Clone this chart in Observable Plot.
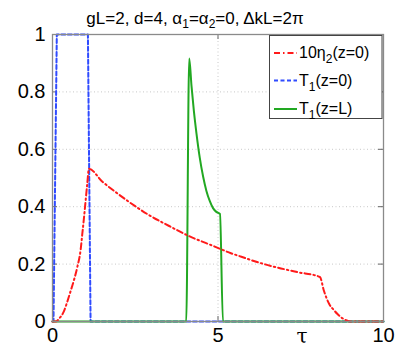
<!DOCTYPE html>
<html>
<head>
<meta charset="utf-8">
<script src="https://cdn.jsdelivr.net/npm/d3@7"></script>
<script src="https://cdn.jsdelivr.net/npm/@observablehq/plot@0.6"></script>
<style>
  html, body { margin: 0; padding: 0; background: #fff; }
  #chart { width: 399px; height: 360px; }
</style>
</head>
<body>
<div id="chart"></div>
<script>
// ---- data ----
const etaTau = [0, 0.1, 0.2, 0.35, 0.45, 0.55, 0.65, 0.75, 0.85, 0.9, 0.95, 1.0, 1.05, 1.1,
  1.5, 1.86, 2.37, 2.87, 3.37, 3.57, 4.08, 4.88, 5.39, 5.64, 6.39, 6.9, 7.4, 8.08,
  8.2, 8.36, 8.5, 8.61, 8.75, 8.86, 9.0, 10];
const etaVal = [0, 0, 0.01, 0.037, 0.07, 0.107, 0.145, 0.19, 0.25, 0.305, 0.36, 0.42, 0.48, 0.532,
  0.488, 0.455, 0.412, 0.374, 0.342, 0.330, 0.300, 0.262, 0.238, 0.228, 0.200, 0.185, 0.172, 0.155,
  0.107, 0.061, 0.04, 0.026, 0.012, 0.005, 0, 0];

const t0Tau = [0, 0.03, 0.13, 1.07, 1.15, 10];
const t0Val = [0, 0, 1, 1, 0, 0];

const tLTau = [0, 4.04, 4.13, 4.2, 4.27, 4.35, 4.45, 4.55, 4.65, 4.75, 4.85, 4.95, 5.06, 5.15, 10];
const tLVal = [0, 0, 0.916, 0.82, 0.735, 0.655, 0.57, 0.505, 0.455, 0.42, 0.395, 0.382, 0.375, 0, 0];

const xTicks = [0, 5, 10];
const yTicks = [0, 0.2, 0.4, 0.6, 0.8, 1];
const xGrid = [5];
const yGrid = [0.2, 0.4, 0.6, 0.8];

const colors = ["#ff1a1a", "#2f4bff", "#22a822"];
const dashes = ["6,3,1.5,3", "4,2.5", null];

const eta = etaTau.map((t, i) => ({t, v: etaVal[i]}));
const t0 = t0Tau.map((t, i) => ({t, v: t0Val[i]}));
const tL = tLTau.map((t, i) => ({t, v: tLVal[i]}));

const W = 399, H = 360;
const mL = 52, mR = 16, mT = 34, mB = 39;
const innerW = W - mL - mR, innerH = H - mT - mB;

const fmt = d => d === 0 ? "0" : d === 1 ? "1" : String(d);
const FONT = "'Liberation Sans', Arial, sans-serif";

const plot = Plot.plot({
  width: W, height: H,
  marginLeft: mL, marginRight: mR, marginTop: mT, marginBottom: mB,
  style: {fontFamily: FONT, fontSize: "20px", background: "#fff", color: "#000"},
  x: {domain: [0, 10]},
  y: {domain: [0, 1]},
  marks: [
    Plot.ruleY(yGrid, {y: d => d, stroke: "#c8c8c8", strokeDasharray: "1,2.5", strokeWidth: 1}),
    Plot.ruleX(xGrid, {x: d => d, stroke: "#c8c8c8", strokeDasharray: "1,2.5", strokeWidth: 1}),
    // inward tick marks
    Plot.tickY(yTicks, {y: d => d, insetRight: innerW - 5, stroke: "#666"}),
    Plot.tickY(yTicks, {y: d => d, insetLeft: innerW - 5, stroke: "#666"}),
    Plot.tickX(xTicks, {x: d => d, insetTop: innerH - 5, stroke: "#666"}),
    Plot.tickX(xTicks, {x: d => d, insetBottom: innerH - 5, stroke: "#666"}),
    Plot.axisX({ticks: xTicks, tickSize: 0, tickPadding: 6, tickFormat: fmt, label: null, fontSize: 20}),
    Plot.axisY({ticks: yTicks, tickSize: 0, tickPadding: 7, tickFormat: fmt, label: null, fontSize: 20}),
    Plot.line(t0, {x: "t", y: "v", stroke: colors[1], strokeWidth: 2, strokeDasharray: dashes[1]}),
    Plot.line(tL, {x: "t", y: "v", stroke: colors[2], strokeWidth: 2, curve: "monotone-x"}),
    Plot.line(eta, {x: "t", y: "v", stroke: colors[0], strokeWidth: 2, strokeDasharray: dashes[0], curve: "monotone-x"}),
    Plot.frame({stroke: "#8a8a8a", strokeWidth: 1.3})
  ]
});

const svg = d3.select(plot);

// title with subscripts
const title = svg.append("text")
  .attr("x", 195).attr("y", 24)
  .attr("text-anchor", "middle")
  .attr("font-family", FONT)
  .attr("font-size", 17).attr("fill", "#000");
title.append("tspan").text("gL=2, d=4, α");
title.append("tspan").attr("dy", 4).attr("font-size", 12).text("1");
title.append("tspan").attr("dy", -4).text("=α");
title.append("tspan").attr("dy", 4).attr("font-size", 12).text("2");
title.append("tspan").attr("dy", -4).text("=0, ΔkL=2π");

// tau axis label
svg.append("text")
  .attr("x", 302).attr("y", 343)
  .attr("text-anchor", "middle")
  .attr("font-family", "'DejaVu Serif', serif")
  .attr("font-size", 20).attr("fill", "#000")
  .text("τ");

// legend
const lg = svg.append("g").attr("text-anchor", "start");
lg.append("rect").attr("x", 269.5).attr("y", 35.5).attr("width", 112.5).attr("height", 83)
  .attr("fill", "#fff").attr("stroke", "#444").attr("stroke-width", 1);
const rows = [53, 80.5, 109];
const labelParts = [["10η", "2", "(z=0)"], ["T", "1", "(z=0)"], ["T", "1", "(z=L)"]];
rows.forEach((ry, i) => {
  const ln = lg.append("line").attr("x1", 274).attr("x2", 297).attr("y1", ry).attr("y2", ry)
    .attr("stroke", colors[i]).attr("stroke-width", 2);
  if (dashes[i]) ln.attr("stroke-dasharray", dashes[i]);
  const t = lg.append("text").attr("x", 299).attr("y", ry + 5)
    .attr("text-anchor", "start")
    .attr("font-family", FONT)
    .attr("font-size", 16).attr("fill", "#000");
  t.append("tspan").text(labelParts[i][0]);
  t.append("tspan").attr("dy", 5).attr("font-size", 12).text(labelParts[i][1]);
  t.append("tspan").attr("dy", -5).text(labelParts[i][2]);
});

document.getElementById("chart").appendChild(plot);
</script>
</body>
</html>
